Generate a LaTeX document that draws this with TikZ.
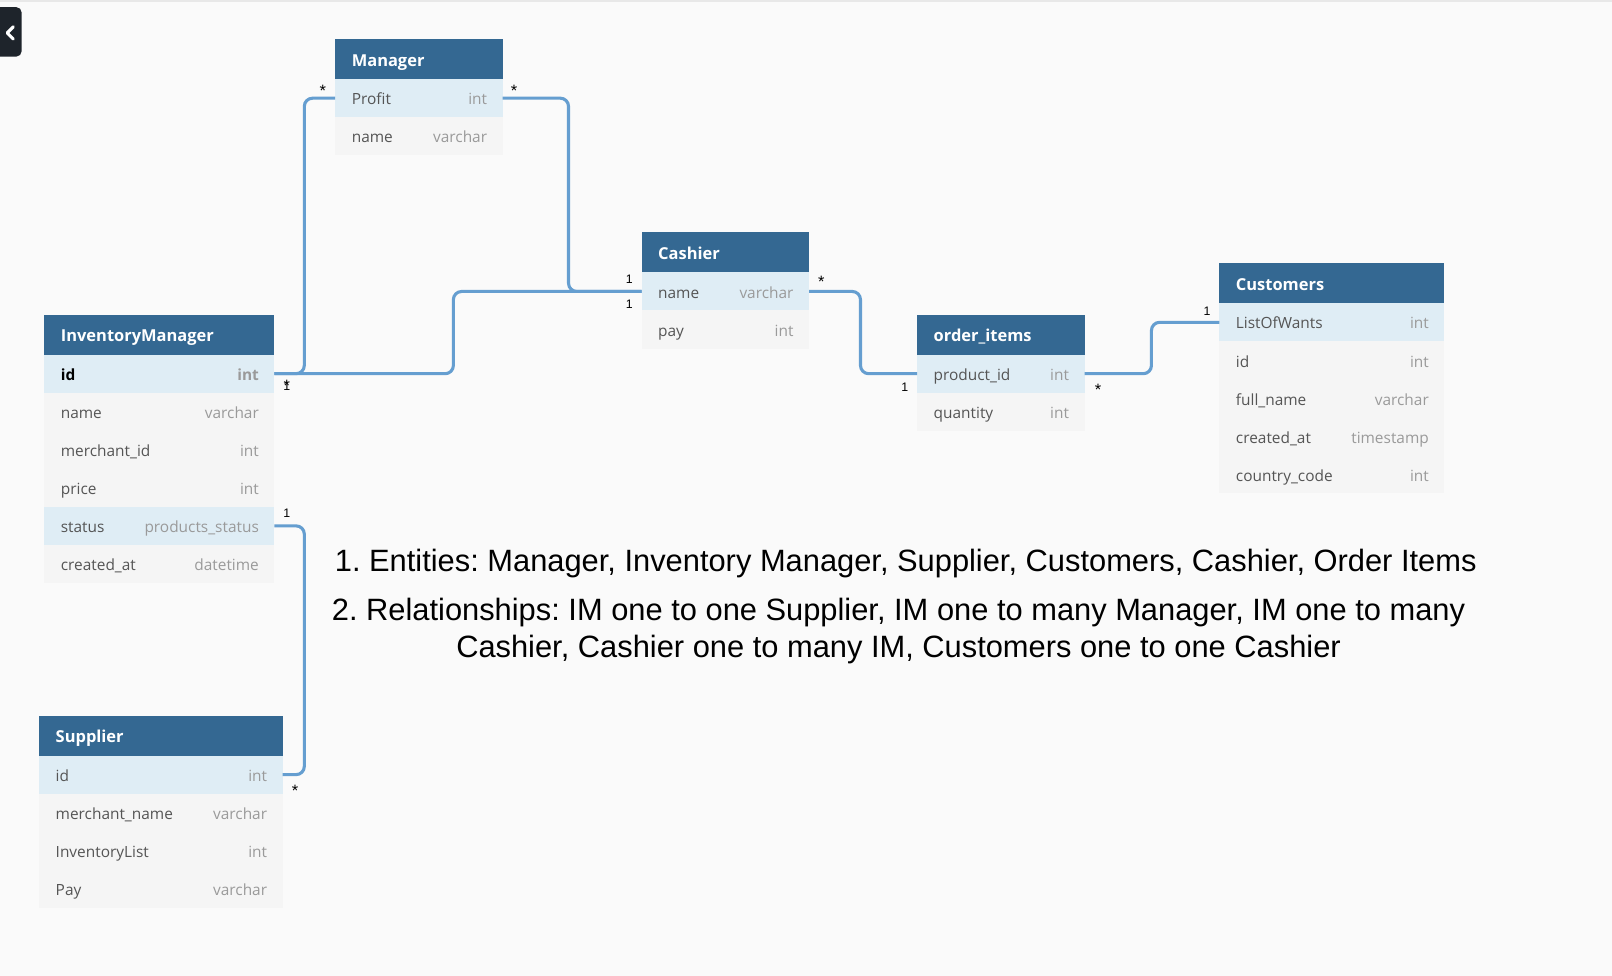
\documentclass[tikz,border=0pt]{standalone}
\usepackage{fontspec}
\newfontfamily\osans{Open Sans}
\newfontfamily\lsans{Liberation Sans}
\definecolor{bg}{HTML}{FAFAFA}
\definecolor{hdr}{HTML}{346892}
\definecolor{hrow}{HTML}{DFEDF5}
\definecolor{nrow}{HTML}{F5F5F5}
\definecolor{ftxt}{HTML}{555555}
\definecolor{ttxt}{HTML}{9A9A9A}
\definecolor{rel}{HTML}{659ED0}
\definecolor{btn}{HTML}{1E242B}
\tikzset{
 hdrbox/.style={fill=hdr, draw=none, inner sep=0pt, outer sep=0pt, minimum height=39pt},
 rowbox/.style={draw=none, inner sep=0pt, outer sep=0pt, minimum height=37pt},
 hl/.style={fill=hrow}, nl/.style={fill=nrow},
 hdrtext/.style={inner sep=0pt, text=white, font=\osans\bfseries\fontsize{16}{19}\selectfont},
 fieldtext/.style={inner sep=0pt, text=ftxt, font=\osans\fontsize{15}{18}\selectfont},
 typetext/.style={inner sep=0pt, text=ttxt, font=\osans\fontsize{15}{18}\selectfont},
 relline/.style={draw=rel, line width=3pt, rounded corners=8pt},
 card/.style={inner sep=0pt, font=\lsans\fontsize{12}{14}\selectfont},
 starcard/.style={inner sep=0pt, font=\lsans\fontsize{16}{18}\selectfont},
 note/.style={inner sep=0pt, font=\lsans\fontsize{30}{36}\selectfont},
}
\newcommand{\ertitle}[5]{%
  \node[hdrbox, minimum width=#4pt, anchor=north west] (#1) at (#2,#3) {};
  \node[hdrtext, anchor=base west] (#1-t) at ([xshift=16pt,yshift=-7pt]#1.west) {#5};
}
\newcommand{\errow}[7]{%
  \node[rowbox, #7, minimum width=#4pt, anchor=north west] (#1) at (#2,#3) {};
  \node[fieldtext, anchor=base west] (#1-f) at ([xshift=16pt,yshift=-6.5pt]#1.west) {#5};
  \node[typetext, anchor=base east] (#1-y) at ([xshift=-15pt,yshift=-6.5pt]#1.east) {#6};
}
\frenchspacing
\begin{document}
\begin{tikzpicture}[x=1pt,y=-1pt]
\fill[bg] (0,0) rectangle (1568,949);
\useasboundingbox (0,0) rectangle (1568,949);
\fill[black!9] (0,0) rectangle (1568,2);
% side button
\fill[btn, rounded corners=5pt] (-10,7) rectangle (21,55);
\draw[white, line width=3pt, line cap=round, line join=round] (13,26) -- (7,32) -- (13,38);

% Manager
\ertitle{mgr}{326}{38}{163}{Manager}
\errow{mgr-profit}{326}{77}{163}{Profit}{int}{hl}
\errow{mgr-name}{326}{114}{163}{name}{varchar}{nl}
% Cashier
\ertitle{cash}{624}{226}{163}{Cashier}
\errow{cash-name}{624}{265}{163}{name}{varchar}{hl}
\errow{cash-pay}{624}{302}{163}{pay}{int}{nl}
% InventoryManager
\ertitle{im}{43}{306}{224}{InventoryManager}
\node[rowbox, hl, minimum width=224pt, anchor=north west] (im-id) at (43,345) {};
\node[fieldtext, text=black, font=\osans\bfseries\fontsize{15}{18}\selectfont, anchor=base west] (im-id-f) at ([xshift=16pt,yshift=-6.5pt]im-id.west) {id};
\node[typetext, font=\osans\bfseries\fontsize{15}{18}\selectfont, anchor=base east] (im-id-y) at ([xshift=-15pt,yshift=-6.5pt]im-id.east) {int};
\errow{im-name}{43}{382}{224}{name}{varchar}{nl}
\errow{im-mid}{43}{419}{224}{merchant\_id}{int}{nl}
\errow{im-price}{43}{456}{224}{price}{int}{nl}
\errow{im-status}{43}{493}{224}{status}{products\_status}{hl}
\errow{im-created}{43}{530}{224}{created\_at}{datetime}{nl}
% order_items
\ertitle{oi}{892}{306}{163}{order\_items}
\errow{oi-pid}{892}{345}{163}{product\_id}{int}{hl}
\errow{oi-qty}{892}{382}{163}{quantity}{int}{nl}
% Customers
\ertitle{cust}{1186}{256}{219}{Customers}
\errow{cust-low}{1186}{295}{219}{ListOfWants}{int}{hl}
\errow{cust-id}{1186}{332}{219}{id}{int}{nl}
\errow{cust-fn}{1186}{369}{219}{full\_name}{varchar}{nl}
\errow{cust-ca}{1186}{406}{219}{created\_at}{timestamp}{nl}
\errow{cust-cc}{1186}{443}{219}{country\_code}{int}{nl}
% Supplier
\ertitle{sup}{38}{696}{237}{Supplier}
\errow{sup-id}{38}{735}{237}{id}{int}{hl}
\errow{sup-mn}{38}{772}{237}{merchant\_name}{varchar}{nl}
\errow{sup-il}{38}{809}{237}{InventoryList}{int}{nl}
\errow{sup-pay}{38}{846}{237}{Pay}{varchar}{nl}

% relationships
\draw[relline] (im-id.east) -- ++(29,0) |- (mgr-profit.west);
\draw[relline] (im-id.east) -- ++(174,0) |- (cash-name.west);
\draw[relline] (mgr-profit.east) -- ++(64,0) |- (cash-name.west);
\draw[relline] (cash-name.east) -- ++(50,0) |- (oi-pid.west);
\draw[relline] (oi-pid.east) -- ++(65,0) |- (cust-low.west);
\draw[relline] (im-status.east) -- ++(29,0) |- (sup-id.east);

% cardinalities
\node[starcard] (c1) at ([xshift=-12pt,yshift=7pt]mgr-profit.west) {*};
\node[starcard] (c2) at ([xshift=11pt,yshift=7pt]mgr-profit.east) {*};
\node[card] (c3) at ([xshift=12pt,yshift=-12pt]im-id.east) {1};
\node[starcard] (c4) at ([xshift=12pt,yshift=-12pt]im-id.east) {*};
\node[card] (c5) at ([xshift=-12pt,yshift=12pt]cash-name.west) {1};
\node[card] (c6) at ([xshift=-12pt,yshift=-12pt]cash-name.west) {1};
\node[starcard] (c7) at ([xshift=12pt,yshift=9pt]cash-name.east) {*};
\node[card] (c8) at ([xshift=-12pt,yshift=-13pt]oi-pid.west) {1};
\node[starcard] (c9) at ([xshift=13pt,yshift=-16pt]oi-pid.east) {*};
\node[card] (c10) at ([xshift=-12pt,yshift=11pt]cust-low.west) {1};
\node[card] (c11) at ([xshift=12pt,yshift=12pt]im-status.east) {1};
\node[starcard] (c12) at ([xshift=12pt,yshift=-16pt]sup-id.east) {*};

% notes
\node[note, anchor=base] (n1) at (881,556) {1. Entities: Manager, Inventory Manager, Supplier, Customers, Cashier, Order Items};
\node[note, anchor=base] (n2) at (874,604) {2. Relationships: IM one to one Supplier, IM one to many Manager, IM one to many};
\node[note, anchor=base] (n3) at (874,640) {Cashier, Cashier one to many IM, Customers one to one Cashier};
\end{tikzpicture}
\end{document}
